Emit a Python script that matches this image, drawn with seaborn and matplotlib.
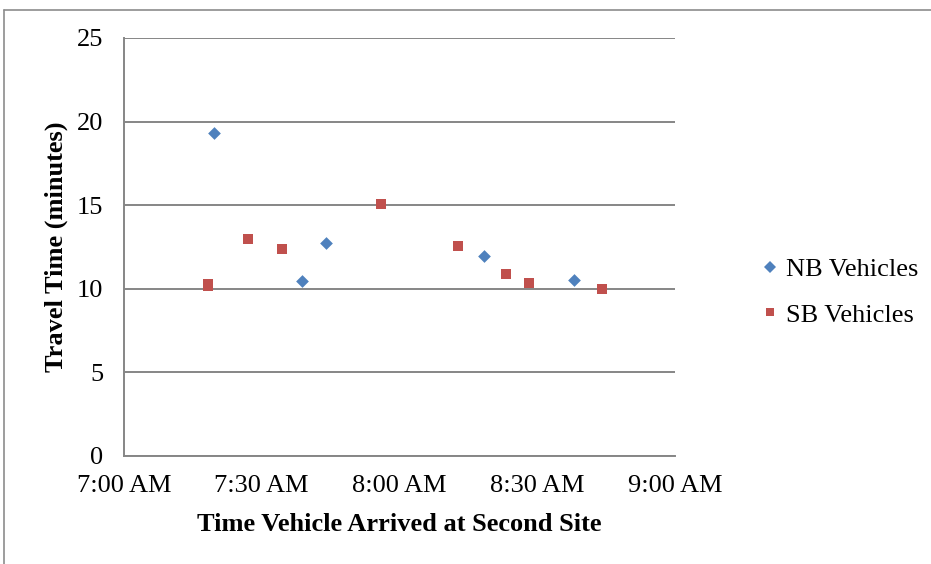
import matplotlib
matplotlib.use("Agg")
import matplotlib.pyplot as plt
from matplotlib.ticker import FixedLocator, FuncFormatter
from matplotlib.lines import Line2D
import seaborn as sns
import pandas as pd

# Arrival times at the second site and measured travel times (minutes)
nb_times = ["7:19:30", "7:38:48", "7:44:06", "8:18:24", "8:37:54"]
nb_values = [19.32, 10.45, 12.72, 11.98, 10.54]
sb_times = ["7:18:22", "7:18:22", "7:26:54", "7:34:24", "7:56:00",
            "8:12:48", "8:23:06", "8:28:06", "8:44:12"]
sb_values = [10.30, 10.15, 12.98, 12.38, 15.09, 12.56, 10.90, 10.33, 9.99]

series_labels = ["NB Vehicles", "SB Vehicles"]
x_ticks = ["7:00", "7:30", "8:00", "8:30", "9:00"]
y_ticks = [0, 5, 10, 15, 20, 25]


def to_minutes(t):
    parts = [int(p) for p in t.split(":")]
    while len(parts) < 3:
        parts.append(0)
    h, m, s = parts
    return h * 60 + m + s / 60.0


def fmt_clock(v, pos=None):
    h = int(v // 60)
    m = int(round(v - h * 60))
    suffix = "AM" if h < 12 else "PM"
    h12 = h if h <= 12 else h - 12
    return f"{h12}:{m:02d} {suffix}"


df = pd.DataFrame({
    "arrival": [to_minutes(t) for t in nb_times + sb_times],
    "travel": nb_values + sb_values,
    "series": [series_labels[0]] * len(nb_times) + [series_labels[1]] * len(sb_times),
})

sns.set_theme(style="white")
plt.rcParams["font.family"] = ["Liberation Serif", "DejaVu Serif"]
plt.rcParams["text.color"] = "black"
plt.rcParams["axes.labelcolor"] = "black"
plt.rcParams["xtick.color"] = "black"
plt.rcParams["ytick.color"] = "black"

grid_gray = "#868686"
colors = {series_labels[0]: "#4F81BD", series_labels[1]: "#C0504D"}
markers = {series_labels[0]: "D", series_labels[1]: "s"}
sizes_pt2 = {series_labels[0]: 42, series_labels[1]: 48}
fs = 19

fig = plt.figure(figsize=(9.31, 5.64), dpi=100)
ax = fig.add_axes([124 / 931, 1 - 456 / 564, (675 - 124) / 931, (456 - 38) / 564])

for name in series_labels:
    sub = df[df["series"] == name]
    sns.scatterplot(data=sub, x="arrival", y="travel", ax=ax,
                    color=colors[name], marker=markers[name],
                    s=sizes_pt2[name], linewidth=0, legend=False, zorder=3)

x_tick_vals = [to_minutes(t) for t in x_ticks]
ax.set_xlim(x_tick_vals[0], x_tick_vals[-1])
ax.set_ylim(y_ticks[0], y_ticks[-1])
ax.xaxis.set_major_locator(FixedLocator(x_tick_vals))
ax.xaxis.set_major_formatter(FuncFormatter(fmt_clock))
ax.yaxis.set_major_locator(FixedLocator(y_ticks))

ax.grid(axis="y", color=grid_gray, linewidth=1.4)
ax.grid(axis="x", visible=False)
ax.set_axisbelow(True)
for side in ["top", "right"]:
    ax.spines[side].set_visible(False)
for side in ["left", "bottom"]:
    ax.spines[side].set_color(grid_gray)
    ax.spines[side].set_linewidth(1.4)

ax.tick_params(axis="both", which="major", labelsize=fs, labelcolor="black",
               color=grid_gray, direction="out", length=5, width=1.1)
ax.tick_params(axis="y", pad=10)
ax.tick_params(axis="x", pad=9)

ax.set_xlabel("Time Vehicle Arrived at Second Site", fontsize=fs,
              fontweight="bold", labelpad=11, color="black")
ax.set_ylabel("Travel Time (minutes)", fontsize=fs, fontweight="bold",
              labelpad=6, color="black")

handles = [
    Line2D([], [], linestyle="none", marker=markers[n], color=colors[n],
           markersize=6.2, markeredgewidth=0)
    for n in series_labels
]
leg = fig.legend(handles, series_labels, loc="center left",
                 bbox_to_anchor=(738 / 931, 1 - 292 / 564), frameon=False,
                 fontsize=fs, handlelength=0.6, handletextpad=0.3,
                 labelspacing=0.85)
for t in leg.get_texts():
    t.set_color("black")

# Chart frame edges along the top and left
border = "#8C8C8C"
fig.add_artist(Line2D([4 / 931, 4 / 931], [0, 1 - 10 / 564],
                      transform=fig.transFigure, color=border, linewidth=1.2))
fig.add_artist(Line2D([4 / 931, 1], [1 - 10 / 564, 1 - 10 / 564],
                      transform=fig.transFigure, color=border, linewidth=1.2))

fig.savefig("out.png", dpi=100, facecolor="white")
